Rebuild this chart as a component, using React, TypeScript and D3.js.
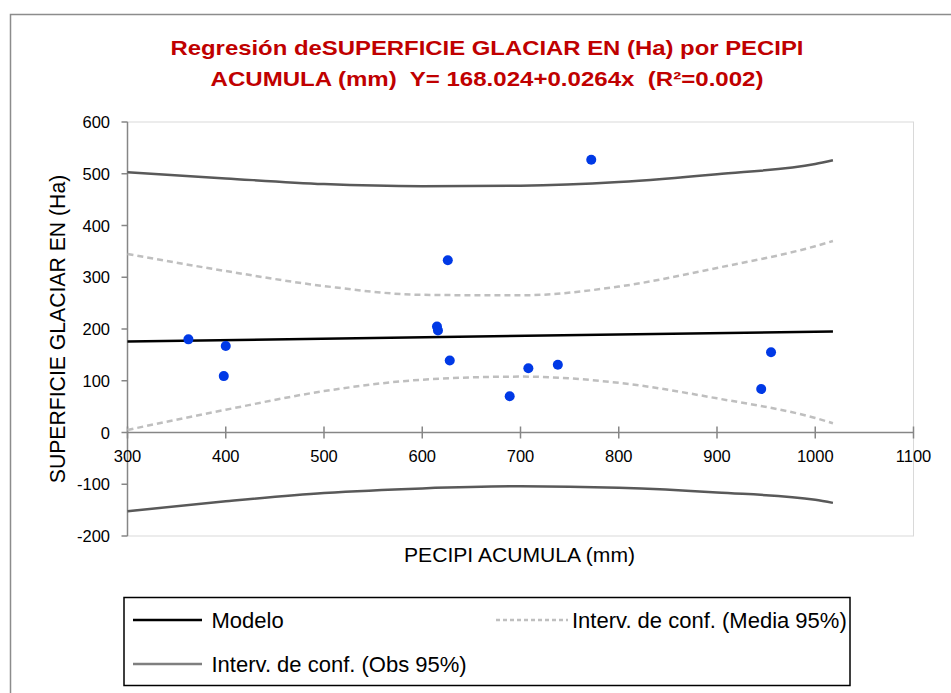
import React from 'react';
import * as d3 from 'd3';

// Observations (precipitation accumulated, glacier surface)
const obsX = [362, 398, 400, 615, 616, 626, 628, 689, 708, 738, 772, 945, 955];
const obsY = [180, 109, 167, 205, 197, 333, 139, 70, 124, 131, 527, 84, 155];

// Model line end points
const modelX = [300, 1018];
const modelY = [176, 195];

// Confidence bands read at these x values
const bandX = [300, 400, 500, 600, 700, 800, 900, 1000, 1018];
const meanUpper = [345, 312, 283, 266, 265, 282, 318, 360, 370];
const meanLower = [5, 44, 80, 102, 108, 96, 66, 28, 18];
const obsUpper = [503, 491, 480, 476, 477, 484, 499, 519, 526];
const obsLower = [-152, -133, -117, -108, -104, -107, -116, -130, -136];

const xTicks = [300, 400, 500, 600, 700, 800, 900, 1000, 1100];
const yTicks = [-200, -100, 0, 100, 200, 300, 400, 500, 600];

const titleLines = [
  'Regresión deSUPERFICIE GLACIAR EN (Ha) por PECIPI',
  'ACUMULA (mm)  Y= 168.024+0.0264x  (R²=0.002)',
];
const titleWidths = [633, 553];
const xTitle = 'PECIPI ACUMULA (mm)';
const yTitle = 'SUPERFICIE GLACIAR EN (Ha)';
const legendItems = ['Modelo', 'Interv. de conf. (Media 95%)', 'Interv. de conf. (Obs 95%)'];

const W = 951;
const H = 693;
const plot = { left: 127.5, right: 913.5, top: 122, bottom: 536 };
const font = '"Liberation Sans", Arial, sans-serif';

export default function App() {
  const x = d3.scaleLinear().domain([300, 1100]).range([plot.left, plot.right]);
  const y = d3.scaleLinear().domain([-200, 600]).range([plot.bottom, plot.top]);

  const line = d3
    .line<[number, number]>()
    .x((d) => x(d[0]))
    .y((d) => y(d[1]))
    .curve(d3.curveMonotoneX);

  const pairs = (ys: number[]) => bandX.map((v, i) => [v, ys[i]] as [number, number]);
  const modelPts = modelX.map((v, i) => [v, modelY[i]] as [number, number]);

  const meanStyle = { stroke: '#bfbfbf', strokeWidth: 2.5, strokeDasharray: '6,4', fill: 'none' };
  const obsStyle = { stroke: '#595959', strokeWidth: 2.5, fill: 'none' };
  const modelStyle = { stroke: '#000000', strokeWidth: 2.5, fill: 'none' };

  const y0 = y(0);

  return (
    <svg
      width={W}
      height={H}
      style={{ position: 'absolute', left: 0, top: 0, background: '#fff' }}
    >
      {/* chart frame */}
      <rect x={10.5} y={14.5} width={1000} height={1000} fill="#fff" stroke="#8c8c8c" strokeWidth={1.5} />

      {/* title */}
      {titleLines.map((t, i) => (
        <text
          key={i}
          x={487}
          y={55 + i * 31}
          textAnchor="middle"
          fill="#c00000"
          fontFamily={font}
          fontWeight="bold"
          fontSize={21}
          textLength={titleWidths[i]}
          lengthAdjust="spacingAndGlyphs"
          style={{ whiteSpace: 'pre' }}
        >
          {t}
        </text>
      ))}

      {/* plot area border */}
      <rect
        x={plot.left}
        y={plot.top}
        width={plot.right - plot.left}
        height={plot.bottom - plot.top}
        fill="none"
        stroke="#d9d9d9"
        strokeWidth={1}
      />

      {/* y axis */}
      <line x1={plot.left} x2={plot.left} y1={plot.top} y2={plot.bottom} stroke="#868686" strokeWidth={1.5} />
      {yTicks.map((t) => (
        <g key={t}>
          <line x1={plot.left - 6} x2={plot.left} y1={y(t)} y2={y(t)} stroke="#868686" strokeWidth={1.5} />
          <text
            x={110}
            y={y(t) + 6}
            textAnchor="end"
            fontFamily={font}
            fontSize={16.5}
            fill="#000"
          >
            {t}
          </text>
        </g>
      ))}

      {/* x axis at y=0 */}
      <line x1={plot.left} x2={plot.right} y1={y0} y2={y0} stroke="#868686" strokeWidth={1.5} />
      {xTicks.map((t) => (
        <g key={t}>
          <line x1={x(t)} x2={x(t)} y1={y0 - 6} y2={y0 + 6} stroke="#868686" strokeWidth={1.5} />
          <text
            x={x(t)}
            y={462}
            textAnchor="middle"
            fontFamily={font}
            fontSize={16.5}
            fill="#000"
          >
            {t}
          </text>
        </g>
      ))}

      {/* axis titles */}
      <text
        x={519.5}
        y={561.5}
        textAnchor="middle"
        fontFamily={font}
        fontSize={19.5}
        textLength={231}
        lengthAdjust="spacingAndGlyphs"
        fill="#000"
      >
        {xTitle}
      </text>
      <text
        transform={`translate(65, ${(plot.top + plot.bottom) / 2}) rotate(-90)`}
        textAnchor="middle"
        fontFamily={font}
        fontSize={21.2}
        fill="#000"
      >
        {yTitle}
      </text>

      {/* bands and model */}
      <path d={line(pairs(meanUpper)) || ''} style={meanStyle} />
      <path d={line(pairs(meanLower)) || ''} style={meanStyle} />
      <path d={line(pairs(obsUpper)) || ''} style={obsStyle} />
      <path d={line(pairs(obsLower)) || ''} style={obsStyle} />
      <path d={line(modelPts) || ''} style={modelStyle} />

      {/* observations */}
      {obsX.map((v, i) => (
        <circle key={i} cx={x(v)} cy={y(obsY[i])} r={5} fill="#0039e6" />
      ))}

      {/* legend */}
      <rect x={124} y={597.5} width={726} height={88} fill="#fff" stroke="#000" strokeWidth={1.5} />
      <line x1={133} x2={202} y1={620} y2={620} style={modelStyle} />
      <text x={211.5} y={628} fontFamily={font} fontSize={22} fill="#000">
        {legendItems[0]}
      </text>
      <line x1={496} x2={568} y1={620} y2={620} style={{ ...meanStyle, strokeDasharray: '4,3' }} />
      <text x={572} y={628} fontFamily={font} fontSize={22} fill="#000">
        {legendItems[1]}
      </text>
      <line x1={133} x2={202} y1={664} y2={664} style={{ ...obsStyle, stroke: '#7f7f7f' }} />
      <text x={211.5} y={672} fontFamily={font} fontSize={22} fill="#000">
        {legendItems[2]}
      </text>
    </svg>
  );
}
